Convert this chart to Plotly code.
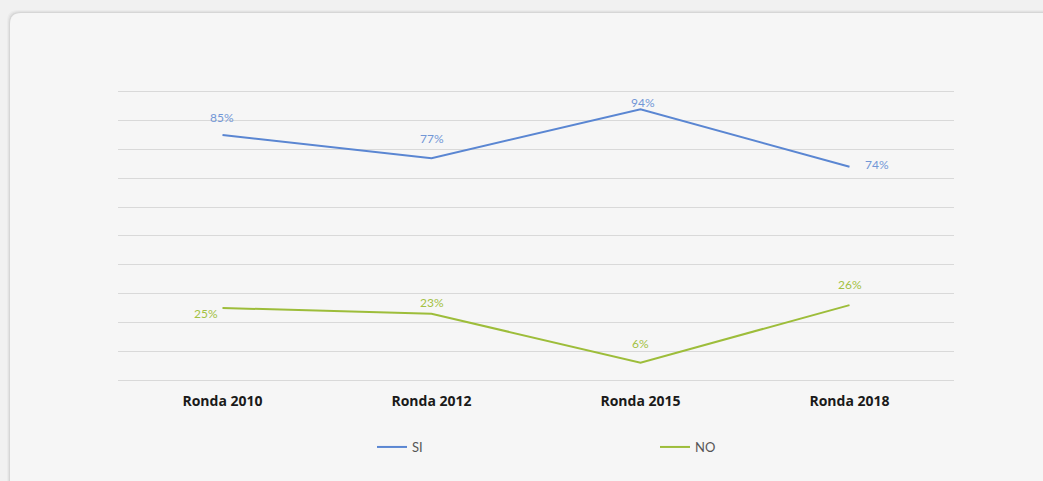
import plotly.graph_objects as go

# Survey rounds and share of answers (percent)
rondas = ["Ronda 2010", "Ronda 2012", "Ronda 2015", "Ronda 2018"]
si_vals = [85, 77, 94, 74]
no_vals = [25, 23, 6, 26]

# Label placement per point: (xanchor, xshift, yshift)
si_lab = [("center", -1, 18), ("center", 0, 20), ("center", 2, 7), ("left", 13, 2)]
no_lab = [("right", -3, -6), ("center", 0, 11), ("center", 0, 19), ("center", 0, 21)]

W, H = 1043, 481
L, R, T, B = 118, 954, 89, 380  # plot area in pixels

SI_COLOR = "#5a86d2"
NO_COLOR = "#9dbd3a"
SI_TEXT = "#7297d6"
NO_TEXT = "#a3c143"


def px(x):
    return (x - L) / (R - L)


def py(y):
    return (B - y) / (B - T)


fig = go.Figure()
fig.add_trace(go.Scatter(
    x=rondas, y=si_vals, name="SI", mode="lines",
    line=dict(color=SI_COLOR, width=2),
))
fig.add_trace(go.Scatter(
    x=rondas, y=no_vals, name="NO", mode="lines",
    line=dict(color=NO_COLOR, width=2),
))

annotations = []
for vals, labs, col in [(si_vals, si_lab, SI_TEXT), (no_vals, no_lab, NO_TEXT)]:
    for cat, v, (xa, xs, ys) in zip(rondas, vals, labs):
        annotations.append(dict(
            x=cat, y=v, xref="x", yref="y", text=f"{v}%", showarrow=False,
            xanchor=xa, yanchor="middle", xshift=xs, yshift=ys,
            font=dict(color=col, size=12, family="Lato"),
        ))

# Card background with rounded top-left corner and soft shadow
x0, y0, r = 10, 13, 11
x1, y1 = W + 20, H + 20
shapes = []
for i, op in enumerate([0.025, 0.035, 0.05]):
    d = 3 - i
    shapes.append(dict(
        type="path", xref="paper", yref="paper", layer="below",
        path=(f"M {px(x0 - d)},{py(y1)} L {px(x0 - d)},{py(y0 - d + r)} "
              f"Q {px(x0 - d)},{py(y0 - d)} {px(x0 - d + r)},{py(y0 - d)} "
              f"L {px(x1)},{py(y0 - d)} L {px(x1)},{py(y1)} Z"),
        fillcolor=f"rgba(0,0,0,{op})", line=dict(width=0),
    ))
shapes.append(dict(
    type="path", xref="paper", yref="paper", layer="below",
    path=(f"M {px(x0)},{py(y1)} L {px(x0)},{py(y0 + r)} "
          f"Q {px(x0)},{py(y0)} {px(x0 + r)},{py(y0)} "
          f"L {px(x1)},{py(y0)} L {px(x1)},{py(y1)} Z"),
    fillcolor="#f6f6f6", line=dict(width=0),
))

fig.update_layout(
    width=W, height=H,
    margin=dict(l=L, r=W - R, t=T, b=H - B, pad=0),
    paper_bgcolor="#f1f1f1",
    plot_bgcolor="rgba(0,0,0,0)",
    shapes=shapes,
    annotations=annotations,
    showlegend=True,
    legend=dict(
        orientation="h", x=px(372), y=py(447), xanchor="left", yanchor="middle",
        entrywidth=238, entrywidthmode="pixels",
        font=dict(size=13, color="#555555", family="Lato"),
        itemwidth=30, tracegroupgap=0,
        bgcolor="rgba(0,0,0,0)",
    ),
    xaxis=dict(
        showgrid=False, zeroline=False, showline=False,
        ticks="", ticklabelstandoff=11,
        tickfont=dict(size=14, color="#1a1a1a", family="Open Sans", weight="bold"),
        range=[-0.5, 3.5],
    ),
    yaxis=dict(
        range=[0, 101], tickvals=list(range(0, 101, 10)), showticklabels=False,
        showgrid=True, gridcolor="#d9d9d9", gridwidth=1,
        zeroline=True, zerolinecolor="#d9d9d9", zerolinewidth=1,
        showline=False, ticks="",
    ),
)

fig.write_html("out.html")
